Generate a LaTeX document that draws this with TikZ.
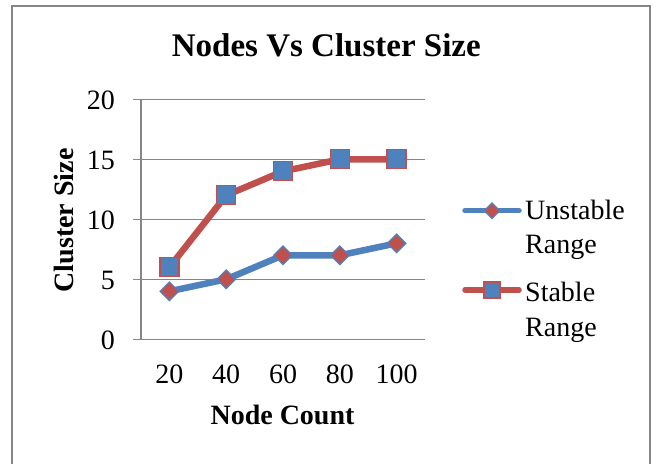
\documentclass[tikz,border=0pt]{standalone}
\usepackage{fontspec}
\setmainfont{Liberation Serif}
\usetikzlibrary{shapes.geometric}
\definecolor{serblue}{HTML}{4F81BD}
\definecolor{serred}{HTML}{C0504D}
\definecolor{gridgray}{HTML}{868686}
\tikzset{
  gridline/.style={draw=gridgray, line width=1.5pt},
  frameline/.style={draw=gridgray, line width=1.5pt},
  bluel/.style={draw=serblue, line width=6.5pt, line join=round, line cap=round},
  redl/.style={draw=serred, line width=6.5pt, line join=round, line cap=round},
  dmark/.style={diamond, fill=serred, draw=serblue, line width=1.3pt, minimum width=19pt, minimum height=19pt, inner sep=0pt},
  smark/.style={rectangle, fill=serblue, draw=serred, line width=1.3pt, minimum size=19pt, inner sep=0pt},
  ticklab/.style={font=\fontsize{28}{34}\selectfont, inner sep=0pt},
  boldlab/.style={font=\fontsize{28}{34}\selectfont\bfseries, inner sep=0pt},
}
\begin{document}
\begin{tikzpicture}[x=1pt,y=-1pt]
\useasboundingbox (0,0) rectangle (658,463);
\fill[white] (0,0) rectangle (658,463);
% frame
\draw[frameline] (12,6) -- (650,6) -- (650,480) -- (12,480) -- cycle;
% title
\node[inner sep=0pt, anchor=base, font=\fontsize{33}{40}\selectfont\bfseries] (title) at (326.3,56.7) {Nodes Vs Cluster Size};
% grid
\foreach \v/\n in {0/g0,5/g5,10/g10,15/g15,20/g20}{
  \coordinate (\n l) at (133,{339.3-12*\v});
  \coordinate (\n r) at (425,{339.3-12*\v});
  \draw[gridline] (\n l) -- (\n r);
  \node[ticklab, anchor=base east] (\n t) at (115,{339.3-12*\v+9.7}) {\v};
}
\coordinate (axb) at (141,339.3);
\coordinate (axt) at (141,99.3);
\draw[gridline] (axb) -- (axt);
% x tick labels
\foreach \i/\lab in {0/20,1/40,2/60,3/80,4/100}{
  \node[ticklab, anchor=base] (x\lab) at ({169.4+56.8*\i},383.3) {\lab};
}
% axis titles
\node[boldlab, anchor=base] (xtitle) at (282.5,424.3) {Node Count};
\node[boldlab, anchor=base, rotate=90] (ytitle) at (73,220.5) {Cluster Size};
% data
\foreach \i/\u/\s in {1/4/6,2/5/12,3/7/14,4/7/15,5/8/15}{
  \coordinate (u\i) at ({169.4+56.8*(\i-1)},{339.3-12*\u});
  \coordinate (s\i) at ({169.4+56.8*(\i-1)},{339.3-12*\s});
}
\draw[bluel] (u1) -- (u2) -- (u3) -- (u4) -- (u5);
\draw[redl] (s1) -- (s2) -- (s3) -- (s4) -- (s5);
\foreach \i in {1,...,5}{
  \node[dmark] (um\i) at (u\i) {};
  \node[smark] (sm\i) at (s\i) {};
}
% legend
\coordinate (lu1) at (465,210.7);
\coordinate (lu2) at (519,210.7);
\draw[draw=serblue, line width=5.5pt, line cap=round] (lu1) -- (lu2);
\node[dmark, minimum width=16pt, minimum height=16pt] (lud) at (492,210.7) {};
\node[ticklab, anchor=base west] (lut1) at (525,219.3) {Unstable};
\node[ticklab, anchor=base west] (lut2) at (525,253.3) {Range};
\coordinate (ls1) at (465,290);
\coordinate (ls2) at (519,290);
\draw[draw=serred, line width=5.5pt, line cap=round] (ls1) -- (ls2);
\node[smark, minimum size=16pt] (lsd) at (492,290) {};
\node[ticklab, anchor=base west] (lst1) at (525,301.7) {Stable};
\node[ticklab, anchor=base west] (lst2) at (525,336.7) {Range};
\end{tikzpicture}
\end{document}
